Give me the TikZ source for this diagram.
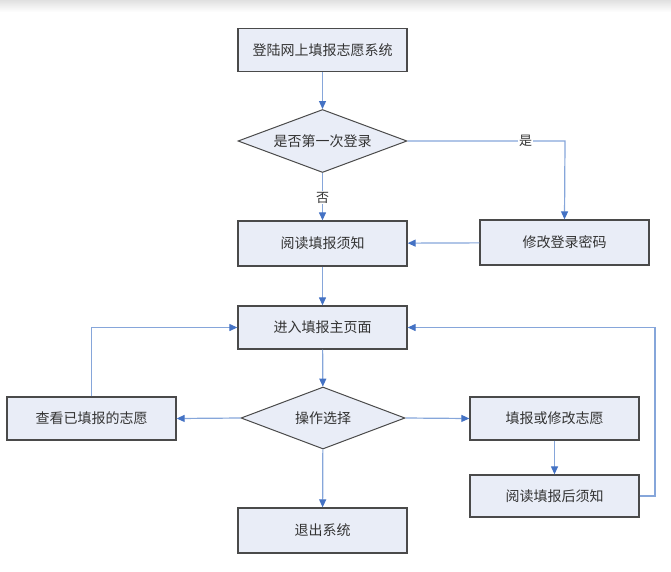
\documentclass[tikz,border=0pt]{standalone}
\usepackage{fontspec}
\setmainfont{Noto Sans CJK SC}
\usetikzlibrary{shapes.geometric,arrows.meta}
\definecolor{boxfill}{HTML}{E9EDF7}
\definecolor{boxdraw}{HTML}{4A4A4A}
\definecolor{linec}{HTML}{86A6DA}
\definecolor{tipc}{HTML}{4472C4}
\definecolor{txt}{HTML}{333333}
\tikzset{
  procbox/.style={draw=boxdraw, fill=boxfill, line width=1.3pt, minimum width=169pt, minimum height=43pt, inner sep=0pt, font=\fontsize{14}{16}\selectfont, text=txt},
  decbox/.style={draw=boxdraw, fill=boxfill, line width=1pt, diamond, shape aspect=2.7, minimum width=169pt, minimum height=63pt, inner sep=0pt, font=\fontsize{14}{16}\selectfont, text=txt},
  flow/.style={draw=linec, line width=1.2pt, -{Triangle[length=8pt,width=7pt,color=tipc]}},
  lbl/.style={fill=white, inner sep=1pt, font=\fontsize{13}{15}\selectfont, text=txt}
}
\begin{document}
\begin{tikzpicture}[x=1pt,y=-1pt]
\useasboundingbox (0,0) rectangle (671,571);
\shade[top color=black!12, bottom color=white] (0,0) rectangle (671,12);
\node[procbox] (login) at (322.5,50) {登陆网上填报志愿系统};
\node[decbox] (first) at (322.5,141) {是否第一次登录};
\node[procbox, minimum height=45pt] (read) at (322.5,243.5) {阅读填报须知};
\node[procbox, minimum height=45pt] (mod) at (564.5,242.5) {修改登录密码};
\node[procbox] (enter) at (322.5,327.5) {进入填报主页面};
\node[decbox, minimum width=164pt, minimum height=62pt] (op) at (323,418) {操作选择};
\node[procbox] (view) at (91.5,418.5) {查看已填报的志愿};
\node[procbox] (fill) at (554.5,418.5) {填报或修改志愿};
\node[procbox, minimum height=42pt] (after) at (554.5,496) {阅读填报后须知};
\node[procbox, minimum height=45pt] (exit) at (322.5,530.5) {退出系统};
\coordinate (c1) at (565,141);
\coordinate (c2) at (91.5,327.5);
\coordinate (c3) at (655,496);
\coordinate (c4) at (655,327.5);

\draw[flow] (login) -- (first);
\draw[flow] (first) -- node[lbl, pos=0.52] {否} (read);
\draw[flow] (first.east) -- node[lbl, pos=0.75] {是} (c1) -- (mod.north);
\draw[flow] (mod) -- (read);
\draw[flow] (read) -- (enter);
\draw[flow] (enter) -- (op);
\draw[flow] (op.west) -- (view.east);
\draw[flow] (op.east) -- (fill.west);
\draw[flow] (op) -- (exit);
\draw[flow] (view.north) -- (c2) -- (enter.west);
\draw[flow] (fill) -- (after);
\draw[flow] (after.east) -- (c3) -- (c4) -- (enter.east);
\end{tikzpicture}
\end{document}
